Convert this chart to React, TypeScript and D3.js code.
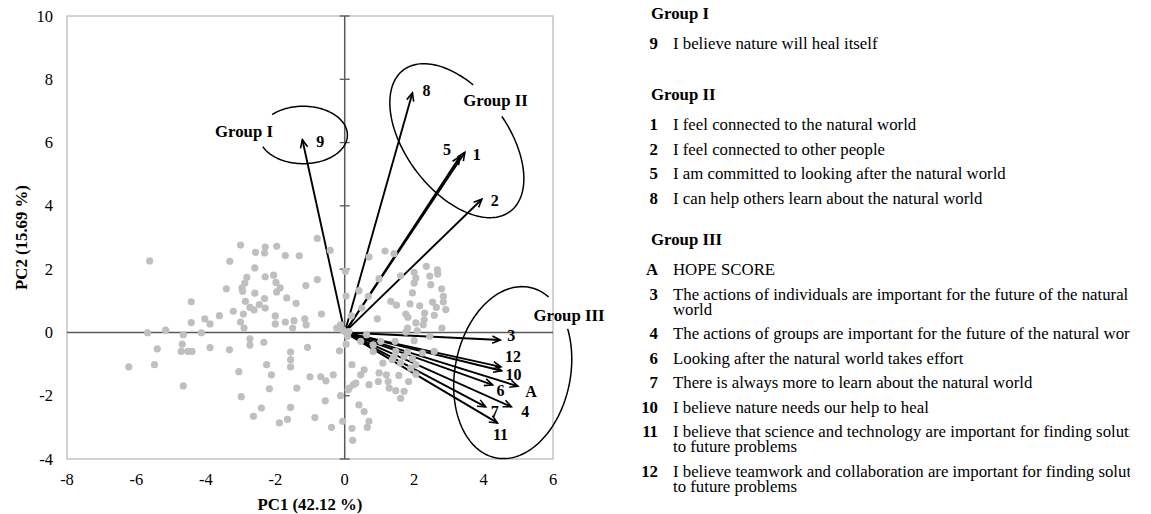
import React from 'react';
import * as d3 from 'd3';

// ---------- data ----------
const xTicks = [-8, -6, -4, -2, 0, 2, 4, 6];
const yTicks = [-4, -2, 0, 2, 4, 6, 8, 10];

const loadingIds = ['9', '8', '5', '1', '2', '3', '12', '10', 'A', '6', '4', '7', '11'];
const loadingPC1 = [-1.22, 1.95, 3.32, 3.46, 3.95, 4.48, 4.5, 4.52, 4.99, 4.26, 4.8, 4.06, 4.4];
const loadingPC2 = [6.09, 7.57, 5.56, 5.69, 4.21, -0.24, -1.09, -1.21, -1.7, -1.66, -2.35, -2.35, -2.86];

const scorePC1 = [
  -5.62, -3.31, -3.41, -4.42, -4.42, -4.03, -3.88, -3.61, -3.21, -5.68, -5.16, -4.65, -4.13, -4.68, -5.4, -4.71,
  -4.52, -4.4, -3.88, -3.32, -6.22, -5.48, -4.65, -3.0, -2.29, -1.96, -2.57, -2.31, -1.71, -1.31, -0.79, -0.42,
  -2.59, -2.82, -2.29, -2.05, -2.88, -1.98, -2.96, -1.86, -2.94, -2.59, -1.96, -1.12, -0.79, 0.02, -2.86, -2.31,
  -1.67, -2.73, -2.46, -2.61, -2.29, -1.4, -2.92, -3.0, -2.9, -2.0, -2.0, -1.71, -1.46, -1.5, -1.15, -1.11,
  -0.67, 0.04, 0.19, -0.23, -0.12, 0.03, -2.73, -2.73, -2.33, -1.07, -1.56, -1.56, -1.56, -2.25, -3.05, -2.11,
  -1.0, -0.69, -0.54, -0.33, -0.15, 0.04, 0.21, -2.17, -1.38, -2.98, -0.56, -0.12, 0.1, 0.25, -2.4, -1.56,
  -2.63, -1.88, -1.65, -0.86, -0.38, -0.06, 0.21, 0.23, 1.16, 1.42, 0.7, 0.99, 1.61, 2.35, 2.67, 2.68,
  2.0, 2.05, 2.0, 2.45, 2.48, 2.79, 1.95, 2.84, 2.84, 0.41, 0.68, 0.49, 1.33, 1.49, 1.88, 2.16,
  2.53, 2.64, 2.91, 2.3, 2.58, 1.76, 1.82, 0.94, 2.29, 2.05, 2.26, 2.8, 1.81, 2.09, 1.76, 2.45,
  0.63, 0.12, 0.46, 0.82, 1.04, 1.45, 2.0, 0.82, 1.47, 1.81, 2.24, 2.58, 1.42, 1.71, 1.95, 1.37,
  1.61, 2.05, 1.9, 1.1, 0.99, 1.2, 0.56, 0.46, 1.56, 2.05, 0.97, 1.25, 1.84, 0.7, 0.32, 0.13,
  1.28, 1.47, 1.71, 1.61, 0.41, 0.56, 0.7, 0.65, -0.05, 0.08,
];
const scorePC2 = [
  2.26, 2.25, 1.38, 0.97, 0.31, 0.43, 0.27, 0.53, 0.67, -0.01, 0.07, -0.07, -0.01, -0.37, -0.52, -0.6,
  -0.6, -0.6, -0.48, -0.55, -1.09, -1.02, -1.69, 2.76, 2.7, 2.72, 2.53, 2.51, 2.43, 2.42, 2.97, 2.59,
  2.04, 1.74, 1.76, 1.81, 1.56, 1.58, 1.41, 1.41, 1.3, 1.24, 1.28, 1.48, 1.67, 1.93, 0.98, 1.07,
  1.09, 0.79, 0.88, 0.71, 0.77, 0.92, 0.58, 0.33, 0.14, 0.52, 0.27, 0.33, 0.37, 0.14, 0.43, 0.24,
  0.58, 1.15, 0.52, 0.14, 0.24, 0.01, -0.2, -0.4, -0.31, -0.47, -0.62, -0.86, -1.09, -1.02, -1.24, -1.34,
  -1.4, -1.4, -1.53, -1.34, -0.58, -0.37, -1.02, -1.78, -1.76, -2.03, -2.16, -2.0, -1.81, -1.65, -2.39, -2.37,
  -2.65, -2.86, -2.75, -2.69, -3.0, -2.81, -3.03, -3.41, 2.57, 2.49, 2.38, 1.7, 1.79, 2.09, 1.98, 1.85,
  1.9, 1.72, 1.56, 1.78, 1.51, 1.38, 1.25, 1.14, 0.96, 1.32, 1.14, 0.77, 0.98, 0.86, 0.9, 0.84,
  0.96, 0.79, 0.72, 0.61, 0.54, 0.58, 0.48, 0.43, 0.4, 0.3, 0.24, 0.14, 0.14, 0.05, 0.01, -0.12,
  -0.07, 0.03, -0.28, -0.39, -0.28, -0.28, -0.26, -0.6, -0.6, -0.62, -0.65, -0.6, -0.76, -0.76, -0.83, -0.86,
  -0.97, -1.02, -1.13, -0.97, -1.28, -1.34, -1.18, -1.34, -1.36, -1.32, -1.55, -1.55, -1.55, -1.65, -1.6, -1.76,
  -1.76, -1.84, -1.86, -2.08, -2.29, -2.5, -2.81, -3.0, 0.08, -0.12,
];

const groupNames = ['Group I', 'Group II', 'Group III'];
const groupIKeys = ['9'];
const groupITexts = [['I believe nature will heal itself']];
const groupIIKeys = ['1', '2', '5', '8'];
const groupIITexts = [
  ['I feel connected to the natural world'],
  ['I feel connected to other people'],
  ['I am committed to looking after the natural world'],
  ['I can help others learn about the natural world'],
];
const groupIIIKeys = ['A', '3', '4', '6', '7', '10', '11', '12'];
const groupIIITexts = [
  ['HOPE SCORE'],
  ['The actions of individuals are important for the future of the natural', 'world'],
  ['The actions of groups are important for the future of the natural world'],
  ['Looking after the natural world takes effort'],
  ['There is always more to learn about the natural world'],
  ['I believe nature needs our help to heal'],
  ['I believe that science and technology are important for finding solutions', 'to future problems'],
  ['I believe teamwork and collaboration are important for finding solutions', 'to future problems'],
];

const xTitle = 'PC1 (42.12 %)';
const yTitle = 'PC2 (15.69 %)';

// ---------- layout ----------
const W = 1151;
const H = 514;
const PL = 67, PR = 553, PT = 16, PB = 459;
const FONT = '"Liberation Serif", "Times New Roman", serif';
const FS = 16.8;
const LEGEND_CLIP_X = 1130;

// label offsets from arrow tips (px)
const labelOffsets: Record<string, [number, number]> = {
  '9': [18, 2], '8': [14, -2], '5': [-13, -7], '1': [12, 2], '2': [13, 1],
  '3': [11, -5], '12': [12, -10], '10': [12, 4], 'A': [13, 5], '6': [8, 6],
  '4': [14, 5], '7': [9, 5], '11': [3, 12],
};

// group ellipses: center in data units, radii/rotation/arc in px/deg
const ellipseSpecs = [
  { cx: -1.196, cy: 6.24, rx: 44.2, ry: 28.7, rot: 0, a0: -134.6, a1: 155.9, label: 0, lx: 273, ly: 137, anchor: 'end' },
  { cx: 3.23, cy: 6.06, rx: 88.6, ry: 50.7, rot: 52.9, a0: -85, a1: 247, label: 1, lx: 495.5, ly: 106, anchor: 'middle' },
  { cx: 4.84, cy: -1.27, rx: 57.7, ry: 86.9, rot: 11.1, a0: -38, a1: 291, label: 2, lx: 569, ly: 321, anchor: 'middle' },
];

const legendHeaderY = [18.5, 100, 245];
const legendNumX = 658;
const legendTextX = 673;
const legendHeadX = 651;

export default function App() {
  const x = d3.scaleLinear().domain([-8, 6]).range([PL, PR]);
  const y = d3.scaleLinear().domain([-4, 10]).range([PB, PT]);
  const x0 = x(0), y0 = y(0);

  const line = d3.line<[number, number]>();
  const arcPath = (s: typeof ellipseSpecs[number]) => {
    const cx = x(s.cx), cy = y(s.cy);
    const th = (s.rot * Math.PI) / 180;
    const pts: [number, number][] = [];
    const n = 160;
    for (let i = 0; i <= n; i++) {
      const t = ((s.a0 + ((s.a1 - s.a0) * i) / n) * Math.PI) / 180;
      const lx = s.rx * Math.cos(t), ly = s.ry * Math.sin(t);
      pts.push([cx + lx * Math.cos(th) - ly * Math.sin(th), cy + lx * Math.sin(th) + ly * Math.cos(th)]);
    }
    return line(pts) || '';
  };

  const legendBlocks = [
    { keys: groupIKeys, texts: groupITexts },
    { keys: groupIIKeys, texts: groupIITexts },
    { keys: groupIIIKeys, texts: groupIIITexts },
  ];

  const legendEls: React.ReactNode[] = [];
  legendBlocks.forEach((b, gi) => {
    const hy = legendHeaderY[gi];
    legendEls.push(
      <text key={'h' + gi} x={legendHeadX} y={hy} fontWeight="bold" fontSize={FS}>{groupNames[gi]}</text>
    );
    let yy = hy + 30;
    b.keys.forEach((k, i) => {
      legendEls.push(
        <text key={`k${gi}-${i}`} x={legendNumX} y={yy} fontWeight="bold" fontSize={FS} textAnchor="end">{k}</text>
      );
      b.texts[i].forEach((ln, j) => {
        legendEls.push(
          <text key={`t${gi}-${i}-${j}`} x={legendTextX} y={yy + j * 15} fontSize={FS}>{ln}</text>
        );
      });
      yy += 24.5 + (b.texts[i].length - 1) * 15;
    });
  });

  return (
    <div style={{ position: 'absolute', left: 0, top: 0, width: W, height: H, background: '#fff' }}>
      <svg width={W} height={H} style={{ display: 'block', fontFamily: FONT }}>
        <defs>
          <marker id="arr" viewBox="-10 -6 12 12" refX={0} refY={0} markerWidth={12} markerHeight={12}
            markerUnits="userSpaceOnUse" orient="auto">
            <path d="M-8,-3.6 L0,0 L-8,3.6" fill="none" stroke="#000" strokeWidth={1.6} />
          </marker>
          <clipPath id="legendClip">
            <rect x={600} y={0} width={LEGEND_CLIP_X - 600} height={H} />
          </clipPath>
        </defs>

        {/* plot frame */}
        <rect x={PL} y={PT} width={PR - PL} height={PB - PT} fill="none" stroke="#c4c4c4" strokeWidth={1.5} />

        {/* axes through origin */}
        <line x1={PL} x2={PR} y1={y0} y2={y0} stroke="#595959" strokeWidth={1.5} />
        <line x1={x0} x2={x0} y1={PT} y2={PB} stroke="#595959" strokeWidth={1.5} />
        {yTicks.map((t) => (
          <line key={'yt' + t} x1={x0 - 5} x2={x0 + 5} y1={y(t)} y2={y(t)} stroke="#595959" strokeWidth={1.3} />
        ))}

        {/* tick labels */}
        {yTicks.map((t) => (
          <text key={'yl' + t} x={53} y={y(t) + 5.5} textAnchor="end" fontSize={16.5}>{t}</text>
        ))}
        {xTicks.map((t) => (
          <text key={'xl' + t} x={x(t)} y={485} textAnchor="middle" fontSize={16.5}>{t}</text>
        ))}

        {/* axis titles */}
        <text x={(PL + PR) / 2} y={510} textAnchor="middle" fontWeight="bold" fontSize={FS}>{xTitle}</text>
        <text transform={`translate(26.5,${(PT + PB) / 2}) rotate(-90)`} textAnchor="middle" fontWeight="bold" fontSize={FS}>{yTitle}</text>

        {/* loading arrows */}
        {loadingIds.map((id, i) => (
          <line key={'ar' + id} x1={x0} y1={y0} x2={x(loadingPC1[i])} y2={y(loadingPC2[i])}
            stroke="#000" strokeWidth={1.9} markerEnd="url(#arr)" />
        ))}

        {/* scores */}
        {scorePC1.map((v, i) => (
          <circle key={'p' + i} cx={x(v)} cy={y(scorePC2[i])} r={3.6} fill="#bfbfbf" />
        ))}

        {/* arrow labels */}
        {loadingIds.map((id, i) => {
          const [dx, dy] = labelOffsets[id];
          return (
            <text key={'lb' + id} x={x(loadingPC1[i]) + dx} y={y(loadingPC2[i]) + dy + 5.5}
              textAnchor="middle" fontWeight="bold" fontSize={16}>{id}</text>
          );
        })}

        {/* group ellipses */}
        {ellipseSpecs.map((s, i) => (
          <g key={'el' + i}>
            <path d={arcPath(s)} fill="none" stroke="#000" strokeWidth={1.5} />
            <text x={s.lx} y={s.ly} textAnchor={s.anchor as any} fontWeight="bold" fontSize={FS}>{groupNames[s.label]}</text>
          </g>
        ))}

        {/* legend */}
        <g clipPath="url(#legendClip)">{legendEls}</g>
      </svg>
    </div>
  );
}
